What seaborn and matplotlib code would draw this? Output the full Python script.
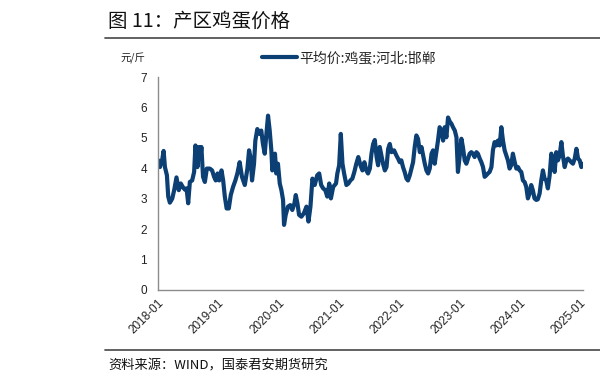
import pandas as pd
import matplotlib
matplotlib.use("Agg")
import matplotlib.pyplot as plt
from matplotlib.lines import Line2D
import seaborn as sns

# 平均价:鸡蛋:河北:邯郸 (元/斤)
dates = [
    "2018-01-03", "2018-01-13", "2018-01-27", "2018-02-04", "2018-02-12", "2018-02-24",
    "2018-03-04", "2018-03-14", "2018-03-28", "2018-04-09", "2018-04-23", "2018-05-07",
    "2018-05-19", "2018-06-02", "2018-06-13", "2018-06-23", "2018-07-03", "2018-07-13",
    "2018-07-27", "2018-08-08", "2018-08-16", "2018-08-28", "2018-09-07", "2018-09-15",
    "2018-09-21", "2018-10-01", "2018-10-12", "2018-10-24", "2018-11-11", "2018-11-25",
    "2018-12-07", "2018-12-17", "2018-12-28",
    "2019-01-07", "2019-01-21", "2019-01-31", "2019-02-10", "2019-02-21", "2019-03-06",
    "2019-03-18", "2019-04-01", "2019-04-15", "2019-04-27", "2019-05-11", "2019-05-25",
    "2019-06-11", "2019-06-27", "2019-07-07", "2019-07-17", "2019-07-25", "2019-08-06",
    "2019-08-14", "2019-08-26", "2019-09-09", "2019-09-19", "2019-09-29", "2019-10-10",
    "2019-10-20", "2019-10-30", "2019-11-09", "2019-11-19", "2019-11-25", "2019-12-03",
    "2019-12-11", "2019-12-19", "2019-12-29",
    "2020-01-09", "2020-01-19", "2020-01-29", "2020-02-04", "2020-02-14", "2020-02-28",
    "2020-03-13", "2020-03-25", "2020-04-07", "2020-04-15", "2020-04-25", "2020-05-05",
    "2020-05-19", "2020-06-03", "2020-06-19", "2020-07-01", "2020-07-13", "2020-07-25",
    "2020-08-08", "2020-08-23", "2020-09-04", "2020-09-16", "2020-09-28", "2020-10-11",
    "2020-10-23", "2020-11-04", "2020-11-14", "2020-11-28", "2020-12-15", "2020-12-23",
    "2021-01-03", "2021-01-13", "2021-01-23", "2021-02-02", "2021-02-16", "2021-02-28",
    "2021-03-12", "2021-03-24", "2021-04-05", "2021-04-17", "2021-04-29", "2021-05-12",
    "2021-05-24", "2021-06-05", "2021-06-17", "2021-06-27", "2021-07-08", "2021-07-18",
    "2021-07-28", "2021-08-07", "2021-08-18", "2021-08-27", "2021-09-06", "2021-09-16",
    "2021-09-26", "2021-10-07", "2021-10-17", "2021-10-27", "2021-11-06", "2021-11-16",
    "2021-12-02", "2021-12-16", "2021-12-26",
    "2022-01-05", "2022-01-15", "2022-01-25", "2022-02-04", "2022-02-15", "2022-02-24",
    "2022-03-07", "2022-03-17", "2022-03-27", "2022-04-06", "2022-04-16", "2022-04-26",
    "2022-05-07", "2022-05-17", "2022-05-27", "2022-06-06", "2022-06-16", "2022-06-26",
    "2022-07-06", "2022-07-17", "2022-07-26", "2022-08-05", "2022-08-15", "2022-08-25",
    "2022-09-04", "2022-09-15", "2022-09-25", "2022-10-05", "2022-10-15", "2022-10-25",
    "2022-11-04", "2022-11-15", "2022-11-24", "2022-12-05", "2022-12-15", "2022-12-24",
    "2023-01-03", "2023-01-14", "2023-01-23", "2023-02-03", "2023-02-13", "2023-02-23",
    "2023-03-05", "2023-03-15", "2023-03-25", "2023-04-04", "2023-04-15", "2023-04-24",
    "2023-05-05", "2023-05-15", "2023-05-25", "2023-06-04", "2023-06-14", "2023-06-24",
    "2023-07-04", "2023-07-15", "2023-07-24", "2023-08-03", "2023-08-14", "2023-08-23",
    "2023-09-03", "2023-09-13", "2023-09-23", "2023-10-03", "2023-10-13", "2023-10-23",
    "2023-11-02", "2023-11-12", "2023-11-22", "2023-12-03", "2023-12-13", "2023-12-23",
    "2024-01-02", "2024-01-12", "2024-01-22", "2024-02-01", "2024-02-11", "2024-02-21",
    "2024-03-02", "2024-03-12", "2024-03-22", "2024-04-01", "2024-04-12", "2024-04-21",
    "2024-05-02", "2024-05-12", "2024-05-22", "2024-06-01", "2024-06-11", "2024-06-21",
    "2024-07-02", "2024-07-12", "2024-07-22", "2024-08-01", "2024-08-11", "2024-08-21",
    "2024-08-31", "2024-09-11", "2024-09-20", "2024-10-01", "2024-10-11", "2024-10-21",
    "2024-10-31", "2024-11-10", "2024-11-20", "2024-12-01", "2024-12-11", "2024-12-21",
    "2024-12-31", "2025-01-10", "2025-01-20",
]
prices = [
    4.26, 4.04, 4.30, 4.57, 4.04, 3.77,
    3.07, 2.87, 3.00, 3.28, 3.70, 3.28,
    3.50, 3.37, 3.30, 3.34, 2.85, 3.55,
    3.60, 3.88, 4.75, 4.04, 4.70, 4.37,
    4.70, 3.72, 3.55, 3.99, 3.99, 3.93,
    3.72, 3.60, 3.83,
    3.60, 3.93, 3.60, 3.07, 2.68, 2.68,
    3.12, 3.39, 3.60, 3.83, 4.20, 3.72,
    3.45, 3.99, 4.59, 4.32, 3.60, 4.15,
    4.91, 5.29, 5.13, 5.24, 4.80, 4.48,
    5.13, 5.73, 5.24, 4.59, 3.93, 4.26,
    4.48, 3.83, 4.15,
    3.50, 3.28, 2.96, 2.14, 2.47, 2.74,
    2.79, 2.63, 2.85, 3.12, 2.85, 2.47,
    2.41, 2.52, 2.74, 2.25, 2.74, 3.66,
    3.45, 3.77, 3.83, 3.45, 3.34, 3.28,
    3.07, 3.50, 3.01, 3.39, 3.50, 3.83,
    4.10, 5.13, 4.15, 3.83, 3.45, 3.50,
    3.60, 3.66, 3.88, 4.15, 4.37, 4.10,
    3.93, 4.20, 3.93, 3.83, 3.99, 4.48,
    4.80, 4.93, 4.37, 4.10, 4.70, 4.42,
    4.15, 3.93, 4.04, 4.64, 4.80, 4.53,
    4.59, 4.42, 4.32,
    4.20, 4.26, 4.04, 3.88, 3.66, 3.60,
    3.77, 3.99, 4.20, 4.70, 5.08, 4.97,
    4.53, 4.70, 4.42, 4.15, 3.93, 3.83,
    3.99, 4.48, 4.59, 4.15, 4.53, 4.91,
    5.35, 5.24, 4.91, 5.35, 5.02, 5.67,
    5.54, 5.46, 5.35, 5.24, 5.02, 3.88,
    4.37, 4.97, 4.70, 4.26, 4.15, 4.32,
    4.48, 4.53, 4.48, 4.37, 4.53, 4.48,
    4.32, 4.20, 4.04, 3.72, 3.77, 3.83,
    3.88, 4.04, 4.59, 4.86, 4.75, 4.91,
    4.75, 5.35, 4.91, 4.59, 4.42, 4.26,
    3.99, 4.10, 4.48, 4.20, 3.99, 4.04,
    3.93, 3.88, 3.60, 3.55, 3.39, 3.01,
    3.17, 3.45, 3.28, 3.01, 2.96, 2.98,
    3.17, 3.60, 3.93, 3.66, 3.60, 3.34,
    3.77, 4.48, 4.15, 3.88, 4.53, 4.26,
    4.42, 4.86, 4.42, 4.04, 4.26, 4.32,
    4.26, 4.20, 4.15, 4.32, 4.64, 4.32,
    4.26, 4.04, 4.15,
]

x_tick_dates = ["2018-01-01", "2019-01-01", "2020-01-01", "2021-01-01",
                "2022-01-01", "2023-01-01", "2024-01-01", "2025-01-01"]
x_tick_labels = ["2018-01", "2019-01", "2020-01", "2021-01",
                 "2022-01", "2023-01", "2024-01", "2025-01"]
y_ticks = [0, 1, 2, 3, 4, 5, 6, 7]

title = "图 11：产区鸡蛋价格"
unit = "元/斤"
series_name = "平均价:鸡蛋:河北:邯郸"
source = "资料来源：WIND，国泰君安期货研究"

line_color = "#0c3f74"
axis_color = "#8c8c8c"

sns.set_theme(style="white")
plt.rcParams['font.family'] = ['Liberation Sans', 'Noto Sans CJK SC']
cjk = ['Noto Sans CJK SC', 'DejaVu Sans']

df = pd.DataFrame({"date": pd.to_datetime(dates), "price": prices})

W, H = 600, 385
fig = plt.figure(figsize=(W / 100, H / 100), dpi=100)
ax = fig.add_axes([158 / W, 1 - 290 / H, (583 - 158) / W, (290 - 77) / H])

sns.lineplot(data=df, x="date", y="price", ax=ax, color=line_color,
             linewidth=3.0, legend=False)

ax.set_xlim(pd.Timestamp("2018-01-01"), df["date"].iloc[-1])
ax.set_ylim(0, 7)
ax.set_yticks(y_ticks)
ax.set_yticklabels([str(v) for v in y_ticks], fontsize=8.5, color="#222222")
ax.set_xticks(pd.to_datetime(x_tick_dates))
ax.set_xticklabels(x_tick_labels, rotation=45, ha="right", rotation_mode="anchor",
                   fontsize=8.5, color="#222222")
ax.set_xlabel("")
ax.set_ylabel("")

for side in ["top", "right"]:
    ax.spines[side].set_visible(False)
for side in ["left", "bottom"]:
    ax.spines[side].set_color(axis_color)
    ax.spines[side].set_linewidth(1.0)
ax.tick_params(axis="both", direction="in", length=3, width=1, color=axis_color)
ax.tick_params(axis="y", pad=8)
ax.tick_params(axis="x", pad=5)

# legend and unit label above the plot
handle = Line2D([], [], color=line_color, linewidth=3.0)
fig.legend([handle], [series_name], loc="center left",
           bbox_to_anchor=(262 / W, 1 - 58 / H), frameon=False,
           prop={"family": cjk, "size": 10}, handlelength=2.5,
           handletextpad=0.2, borderpad=0, borderaxespad=0)
fig.text(120 / W, 1 - 58 / H, unit, fontsize=7.5, family=cjk, va="center",
         ha="left", color="#222222")

# title, rules and source line
fig.text(108 / W, 1 - 21 / H, title, fontsize=14, family=cjk, va="center",
         ha="left", color="#111111")
fig.add_artist(Line2D([105 / W, 1.0], [1 - 38 / H] * 2, color="#555555", linewidth=1.3))
fig.add_artist(Line2D([105 / W, 1.0], [1 - 350 / H] * 2, color="#555555", linewidth=1.3))
fig.text(108 / W, 1 - 366 / H, source, fontsize=9.5, family=cjk, va="center",
         ha="left", color="#111111")

fig.savefig("out.png", dpi=100)
